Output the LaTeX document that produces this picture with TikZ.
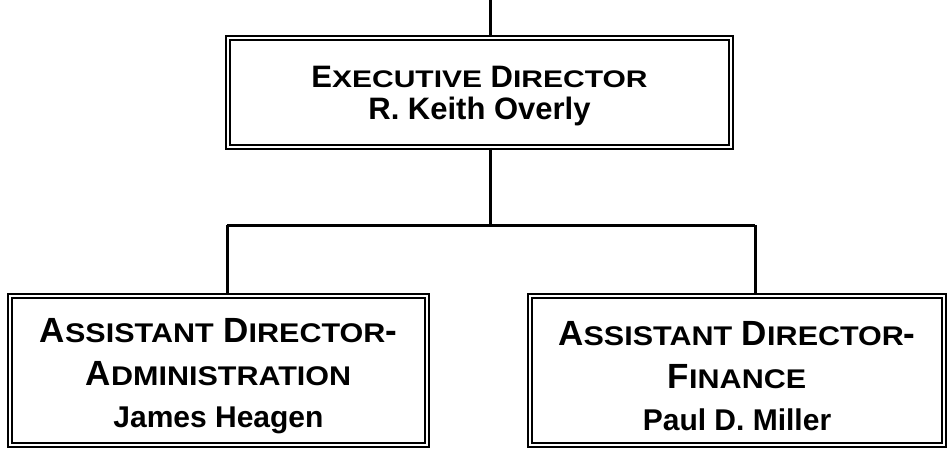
\documentclass[tikz,border=0pt]{standalone}
\usepackage{fontspec}
\setmainfont{Liberation Sans}
\newfontfamily\widetop[FakeStretch=1.25]{Liberation Sans}
\newfontfamily\widelow[FakeStretch=1.13]{Liberation Sans}
\usetikzlibrary{positioning}

\newcommand\topsc[1]{{\widetop\fontsize{24}{24}\selectfont #1}}
\newcommand\lowsc[1]{{\widelow\fontsize{27}{27}\selectfont #1}}
\newcommand\lift[1]{\rule{0pt}{#1}}

\begin{document}
\begin{tikzpicture}
                [x=1pt,y=-1pt,
                 post/.style={draw,line width=1.8pt,double,double distance=2.2pt,
                              align=center,inner sep=0pt},
                 head/.style={post,minimum width=503pt,minimum height=109pt,
                              font=\fontsize{31}{32}\selectfont\bfseries},
                 unit/.style={post,minimum height=149pt,
                              font=\fontsize{35}{43}\selectfont\bfseries},
                 link/.style={line width=3pt}]

                \useasboundingbox (0,0) rectangle (948,450);

                \node[head] (exec) at (479.5,92.5)
                    {\lift{28pt}E\topsc{XECUTIVE} D\topsc{IRECTOR}\\R. Keith Overly};

                \node[unit,minimum width=417pt] (admin) at (218.5,370.5)
                    {\lift{35pt}A\lowsc{SSISTANT} D\lowsc{IRECTOR}-\\A\lowsc{DMINISTRATION}\\[-1pt]
                     {\fontsize{30}{31}\selectfont James Heagen}};
                \node[unit,minimum width=414pt] (finance) at (737,370.5)
                    {\lift{35pt}A\lowsc{SSISTANT} D\lowsc{IRECTOR}-\\F\lowsc{INANCE}\\[-1pt]
                     {\fontsize{30}{31}\selectfont Paul D. Miller}};

                % lines between the boxes
                \coordinate (feed)  at (490,0);
                \coordinate (split) at (490,225);
                \coordinate (busL)  at (227,225);
                \coordinate (busR)  at (755,225);

                \draw[link] (feed) -- (feed |- exec.north);
                \draw[link] (split |- exec.south) -- (split);
                \draw[link] (busL) -- (busR);
                \draw[link] (busL) -- (busL |- admin.north);
                \draw[link] (busR) -- (busR |- finance.north);

            \end{tikzpicture}
\end{document}
